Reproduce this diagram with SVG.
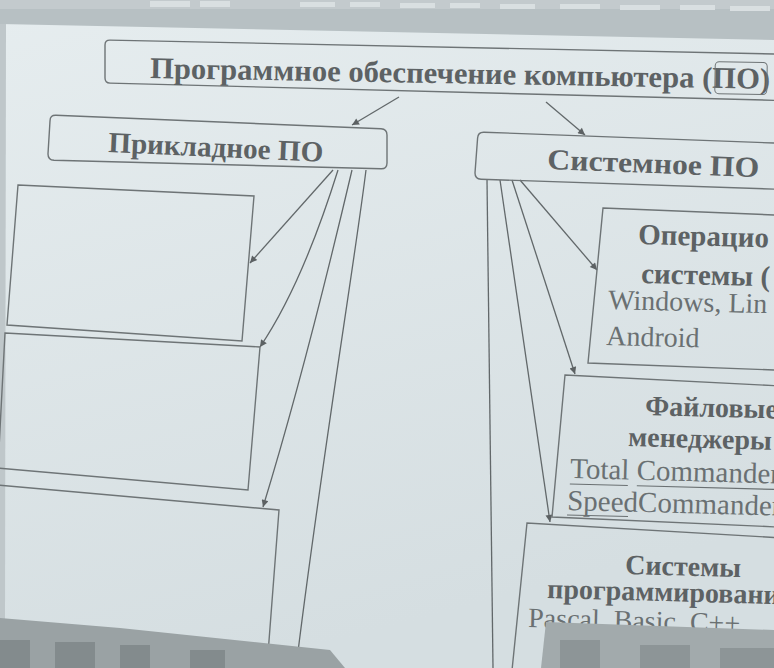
<svg xmlns="http://www.w3.org/2000/svg" width="774" height="668" viewBox="0 0 774 668">
<defs>
<linearGradient id="bg" x1="0" y1="0" x2="0.3" y2="1">
<stop offset="0" stop-color="#e6edef"/>
<stop offset="1" stop-color="#d5dee1"/>
</linearGradient>
<marker id="ah" viewBox="0 0 10 10" refX="10" refY="5" markerWidth="10" markerHeight="7" markerUnits="userSpaceOnUse" orient="auto">
<path d="M0,0 L10,5 L0,10 z" fill="#5c6163"/>
</marker>
<style>
.box{fill:none;stroke:#6e7476;stroke-width:1.4}
.con{fill:none;stroke:#62686a;stroke-width:1.3}
.b{font-family:"Liberation Serif","Times New Roman",serif;font-weight:bold;fill:#5d6264}
.r{font-family:"Liberation Serif","Times New Roman",serif;fill:#6a7072}
.ul{stroke:#6a7072;stroke-width:1.2}
</style>
</defs>
<rect x="0" y="0" width="774" height="668" fill="url(#bg)"/>
<!-- screen frame top -->
<polygon points="0,0 774,0 774,40 0,24" fill="#b7c0c3"/>
<rect x="0" y="0" width="774" height="9" fill="#c3cacd"/>
<g fill="#d9dfe1">
<rect x="150" y="1" width="40" height="6"/><rect x="200" y="1" width="30" height="6"/><rect x="300" y="2" width="35" height="5"/><rect x="350" y="2" width="30" height="5"/><rect x="400" y="3" width="35" height="5"/><rect x="450" y="3" width="30" height="5"/><rect x="500" y="4" width="35" height="5"/><rect x="560" y="4" width="40" height="5"/><rect x="620" y="5" width="40" height="5"/><rect x="680" y="5" width="35" height="5"/><rect x="730" y="6" width="40" height="5"/>
</g>
<polygon points="0,24 6,24 5,620 0,620" fill="#bfc7ca"/>

<!-- connectors -->
<g id="connectors">
<path class="con" d="M399,97 L352,125" marker-end="url(#ah)"/>
<path class="con" d="M546,102 L585,135" marker-end="url(#ah)"/>
<path class="con" d="M333,170 L250,263" marker-end="url(#ah)"/>
<path class="con" d="M338,170 Q302,285 260,347" marker-end="url(#ah)"/>
<path class="con" d="M352,170 Q305,370 263,507" marker-end="url(#ah)"/>
<path class="con" d="M366,170 C355,260 320,470 296,668"/>
<path class="con" d="M487,180 L493,668"/>
<path class="con" d="M500,180 L550,522" marker-end="url(#ah)"/>
<path class="con" d="M512,180 L575,374" marker-end="url(#ah)"/>
<path class="con" d="M520,180 L597,270" marker-end="url(#ah)"/>
</g>

<g id="node-root">
<path class="box" d="M110,40.1 L800,54.5 L800,101 L110,83.1 Q105,83 105,78 L105,45 Q105,40 110,40.1 Z"/>
<text class="b" x="150" y="78" font-size="30" textLength="620" lengthAdjust="spacingAndGlyphs" transform="rotate(1,150,78)">Программное обеспечение компьютера (ПО)</text>
<rect x="715" y="62" width="52" height="32" rx="4" fill="none" stroke="#6e7476" stroke-width="1" transform="rotate(1,740,78)"/>
</g>

<g id="node-applied">
<path class="box" d="M56,115.3 L381,128.7 Q387,129 387,135 L387,163 Q387,169 381,168.8 L54,160.3 Q48,160 48,154 L50,121 Q50,115 56,115.3 Z"/>
<text class="b" x="108" y="152" font-size="29" textLength="215" lengthAdjust="spacingAndGlyphs" transform="rotate(2.6,108,152)">Прикладное ПО</text>
</g>

<g id="node-system">
<path class="box" d="M484,132.2 L800,144 L800,190 L481,179.2 Q475,179 475,173 L477.6,138 Q478,132 484,132.2 Z"/>
<text class="b" x="547" y="169" font-size="29" textLength="212" lengthAdjust="spacingAndGlyphs" transform="rotate(2.2,547,169)">Системное ПО</text>
</g>

<g id="node-app1"><polygon class="box" points="18,185 254,196 242,341 7,325"/></g>
<g id="node-app2"><polygon class="box" points="5,333 260,347 248,490 -2,468"/></g>
<g id="node-app3"><polyline class="box" points="-2,485 279,510 266,680"/></g>

<g id="node-os">
<polygon class="box" points="603,208 800,216 800,371 588,363"/>
<text class="b" x="638" y="244" font-size="29" transform="rotate(1.5,638,244)">Операцио</text>
<text class="b" x="641" y="283" font-size="29" transform="rotate(1.5,641,283)">системы (</text>
<text class="r" x="608" y="309" font-size="28" transform="rotate(1.5,608,309)">Windows, Lin</text>
<text class="r" x="606" y="345" font-size="28" transform="rotate(1.5,606,345)">Android</text>
</g>

<g id="node-fm">
<polygon class="box" points="565,375 800,387 800,528 552,517"/>
<text class="b" x="645" y="415" font-size="28" transform="rotate(1.5,645,415)">Файловые</text>
<text class="b" x="628" y="446" font-size="28" transform="rotate(1.5,628,446)">менеджеры</text>
<text class="r" x="570" y="478" font-size="29" transform="rotate(1.5,570,478)">Total Commander</text>
<text class="r" x="567" y="510" font-size="29" transform="rotate(1.5,567,510)">SpeedCommander</text>
<g transform="rotate(1.5,570,478)">
<line class="ul" x1="570" y1="484" x2="628" y2="484"/>
<line class="ul" x1="637" y1="484" x2="790" y2="484"/>
</g>
<line class="ul" x1="567" y1="515" x2="628" y2="516.5"/>
</g>

<g id="node-prog">
<polyline class="box" points="510,690 527,523 800,539"/>
<text class="b" x="625" y="574" font-size="28" transform="rotate(1.5,625,574)">Системы</text>
<text class="b" x="547" y="598" font-size="28" transform="rotate(1.5,547,598)">программирования</text>
<text class="r" x="528" y="627" font-size="28" transform="rotate(1.5,528,627)">Pascal, Basic, C++</text>
</g>

<!-- taskbar overlays -->
<polygon points="0,618 120,628 330,650 345,668 0,668" fill="#9aa2a4"/>
<g fill="#838b8d">
<rect x="0" y="640" width="30" height="28"/><rect x="55" y="642" width="40" height="26"/><rect x="120" y="645" width="30" height="23"/><rect x="190" y="650" width="35" height="18"/>
</g>
<polygon points="546,622 774,630 774,668 541,668" fill="#a2aaac"/>
<g fill="#8d9597">
<rect x="560" y="640" width="40" height="28"/><rect x="640" y="645" width="50" height="23"/><rect x="720" y="648" width="54" height="20"/>
</g>
</svg>
